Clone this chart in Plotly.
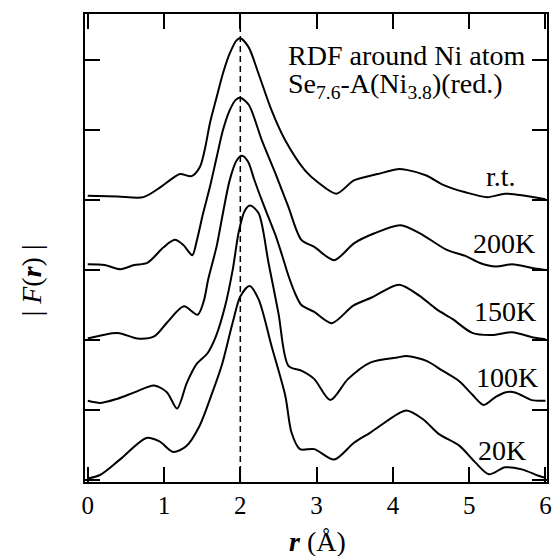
import plotly.graph_objects as go

# ---- data (values as displayed, curves stacked with offsets) ----
labels = ["r.t.", "200K", "150K", "100K", "20K"]

r_rt = [0, 0.39, 0.73, 0.95, 1.10, 1.21, 1.36, 1.47, 1.54, 1.60, 1.69, 1.77, 1.86, 1.95, 2.0, 2.11, 2.24, 2.41, 2.59, 2.85, 3.02, 3.26, 3.49, 3.80, 4.06, 4.18, 4.44, 4.65, 4.95, 5.24, 5.47, 5.73, 6.0]
y_rt = [4.06, 4.05, 4.04, 4.18, 4.30, 4.37, 4.34, 4.47, 4.75, 5.09, 5.47, 5.80, 6.09, 6.28, 6.31, 6.18, 5.80, 5.28, 4.85, 4.42, 4.25, 4.09, 4.28, 4.37, 4.44, 4.43, 4.35, 4.22, 4.11, 4.04, 4.09, 4.06, 4.01]

r_200 = [0, 0.22, 0.43, 0.61, 0.78, 0.99, 1.14, 1.25, 1.37, 1.43, 1.51, 1.60, 1.69, 1.77, 1.86, 1.94, 2.0, 2.11, 2.28, 2.46, 2.63, 2.80, 2.97, 3.23, 3.49, 3.75, 4.10, 4.36, 4.70, 4.95, 5.14, 5.35, 5.56, 5.86, 6.0]
y_200 = [3.08, 3.07, 3.01, 3.07, 3.10, 3.32, 3.43, 3.36, 3.21, 3.42, 3.80, 4.18, 4.61, 4.99, 5.28, 5.43, 5.46, 5.36, 4.86, 4.38, 3.90, 3.43, 3.33, 3.14, 3.38, 3.52, 3.64, 3.52, 3.29, 3.20, 3.10, 3.05, 3.08, 3.02, 3.0]

r_150 = [0, 0.39, 0.65, 0.87, 1.04, 1.26, 1.44, 1.52, 1.58, 1.69, 1.77, 1.86, 1.95, 2.02, 2.10, 2.18, 2.28, 2.37, 2.46, 2.55, 2.63, 2.72, 2.80, 2.97, 3.20, 3.48, 3.73, 4.08, 4.35, 4.57, 4.78, 5.04, 5.30, 5.56, 5.86, 6.0]
y_150 = [2.02, 2.10, 2.02, 2.05, 2.25, 2.48, 2.36, 2.55, 2.87, 3.34, 3.80, 4.28, 4.56, 4.63, 4.55, 4.30, 4.00, 3.75, 3.50, 3.20, 2.92, 2.66, 2.50, 2.40, 2.24, 2.49, 2.61, 2.79, 2.63, 2.44, 2.30, 2.10, 2.07, 2.11, 2.03, 2.01]

r_100 = [0, 0.17, 0.39, 0.61, 0.87, 1.04, 1.17, 1.30, 1.43, 1.57, 1.68, 1.80, 1.90, 1.98, 2.06, 2.13, 2.24, 2.37, 2.50, 2.63, 2.80, 2.97, 3.18, 3.41, 3.71, 4.06, 4.18, 4.44, 4.65, 4.87, 5.04, 5.19, 5.34, 5.47, 5.60, 5.82, 6.0]
y_100 = [1.13, 1.10, 1.16, 1.25, 1.35, 1.25, 1.02, 1.39, 1.66, 1.81, 2.05, 2.48, 3.0, 3.55, 3.85, 3.92, 3.81, 3.10, 2.38, 1.63, 1.56, 1.44, 1.14, 1.44, 1.68, 1.75, 1.77, 1.70, 1.56, 1.41, 1.22, 1.07, 1.18, 1.25, 1.25, 1.14, 1.13]

r_20 = [0, 0.16, 0.42, 0.77, 0.94, 1.12, 1.29, 1.46, 1.63, 1.76, 1.90, 2.0, 2.12, 2.24, 2.41, 2.59, 2.67, 2.78, 2.97, 3.23, 3.49, 3.71, 4.06, 4.18, 4.39, 4.61, 4.87, 5.08, 5.26, 5.47, 5.69, 5.91, 6.0]
y_20 = [0.02, 0.07, 0.29, 0.60, 0.55, 0.40, 0.48, 0.76, 1.24, 1.65, 2.25, 2.62, 2.77, 2.58, 1.91, 1.20, 0.68, 0.44, 0.44, 0.29, 0.53, 0.68, 0.94, 0.99, 0.87, 0.65, 0.49, 0.25, 0.08, 0.18, 0.15, 0.06, 0.03]

label_pos_r = [5.42, 5.45, 5.47, 5.50, 5.43]
label_pos_y = [4.33, 3.38, 2.40, 1.47, 0.42]

x_ticks = [0, 1, 2, 3, 4, 5, 6]
y_ticks = [0, 1, 2, 3, 4, 5, 6]
ref_r = 2.0

FONT = "Liberation Serif"

series = [(r_rt, y_rt), (r_200, y_200), (r_150, y_150), (r_100, y_100), (r_20, y_20)]

fig = go.Figure()
for (rr, yy), name in zip(series, labels):
    fig.add_trace(go.Scatter(x=rr, y=yy, mode="lines", name=name,
                             line=dict(color="black", width=2, shape="spline", smoothing=0.8),
                             showlegend=False, hoverinfo="skip"))

fig.add_shape(type="line", x0=ref_r, x1=ref_r, y0=0, y1=1, xref="x", yref="paper",
              line=dict(color="black", width=1.5, dash="6px,4px"))

for t, xr, yv in zip(labels, label_pos_r, label_pos_y):
    fig.add_annotation(x=xr, y=yv, text=t, showarrow=False, xanchor="center", yanchor="middle",
                       font=dict(family=FONT, size=28, color="black"))

fig.add_annotation(x=2.60, y=6.07, text="RDF around Ni atom", showarrow=False,
                   xanchor="left", yanchor="middle", font=dict(family=FONT, size=28, color="black"))
fig.add_annotation(x=2.60, y=5.63, text="Se<sub>7.6</sub>-A(Ni<sub>3.8</sub>)(red.)", showarrow=False,
                   xanchor="left", yanchor="middle", font=dict(family=FONT, size=28, color="black"))

# axis titles
fig.add_annotation(xref="paper", yref="paper", x=0.503, y=-0.128,
                   text="<b><i>r</i></b> (Å)", showarrow=False, xanchor="center", yanchor="middle",
                   font=dict(family=FONT, size=28, color="black"))
fig.add_annotation(xref="paper", yref="paper", x=-0.1156, y=0.43,
                   text="| <i>F</i>(<b><i>r</i></b>) |", showarrow=False, textangle=-90,
                   xanchor="center", yanchor="middle",
                   font=dict(family=FONT, size=28, color="black"))

axis_common = dict(showgrid=False, zeroline=False, showline=True, linecolor="black", linewidth=2,
                   mirror="ticks", ticks="inside", ticklen=15, tickwidth=2, tickcolor="black")

fig.update_xaxes(range=[-0.036, 6.02], tickvals=x_ticks, ticktext=[str(v) for v in x_ticks],
                 ticklabeloverflow="allow",
                 tickfont=dict(family=FONT, size=25, color="black"), **axis_common)
fig.update_yaxes(range=[-0.03, 6.657], tickvals=y_ticks, showticklabels=False, **axis_common)

fig.update_layout(width=553, height=556, margin=dict(l=85, r=1, t=14, b=74),
                  paper_bgcolor="white", plot_bgcolor="white")

fig.write_html("out.html", config={"displayModeBar": False},
               post_script="document.body.style.margin='0';document.body.style.overflow='hidden';")
